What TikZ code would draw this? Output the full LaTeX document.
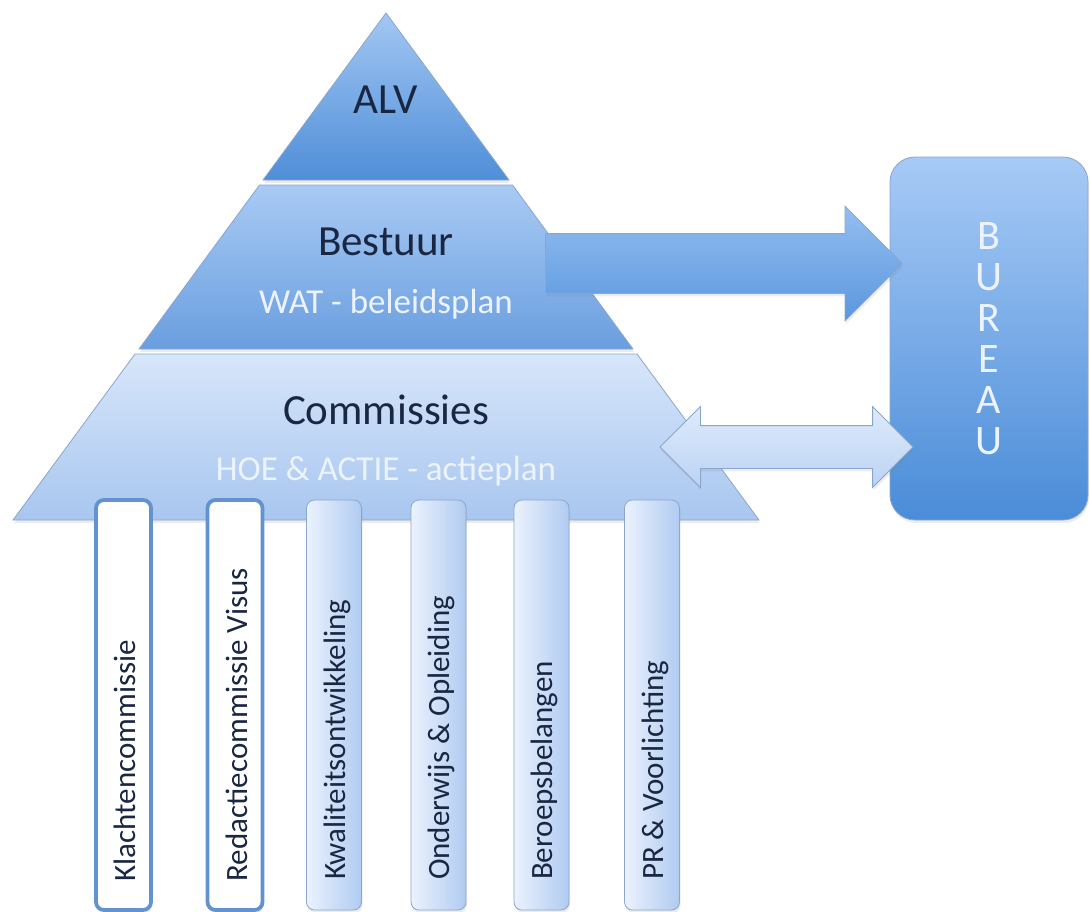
\documentclass[tikz,border=0pt]{standalone}
\usepackage{fontspec}
\setmainfont{Carlito}
\usetikzlibrary{shapes.arrows,shadows}

\definecolor{donker}{HTML}{1A2742}
\definecolor{wit}{HTML}{EDF3FC}
\definecolor{rand}{HTML}{8AA6CB}
\definecolor{alvboven}{HTML}{A3C7F3}
\definecolor{alvonder}{HTML}{4F8ED8}
\definecolor{bestboven}{HTML}{A8CAF4}
\definecolor{bestonder}{HTML}{6A9EDF}
\definecolor{comboven}{HTML}{D7E6FA}
\definecolor{comonder}{HTML}{A8C6EF}
\definecolor{burboven}{HTML}{A7CAF6}
\definecolor{buronder}{HTML}{4A8CD8}
\definecolor{pijlboven}{HTML}{94BEF0}
\definecolor{pijlonder}{HTML}{5A97DE}
\definecolor{dubbelboven}{HTML}{DEEAFB}
\definecolor{dubbelonder}{HTML}{BCD3F4}
\definecolor{kolomrand}{HTML}{6393CE}
\definecolor{kolomlicht}{HTML}{EBF2FD}
\definecolor{kolomblauw}{HTML}{B0CBF1}

\tikzset{
    schaduw/.style={drop shadow={opacity=.15, shadow xshift=1pt, shadow yshift=-3pt}},
    laag/.style={draw=rand, line width=0.8pt, schaduw},
    hoofd/.style={anchor=base, text=donker, font=\fontsize{43}{48}\selectfont},
    onder/.style={anchor=base, text=wit, font=\fontsize{35}{40}\selectfont},
    kolom/.style={rounded corners=8pt, minimum width=55pt, minimum height=410pt, inner sep=0pt, schaduw},
    kolomleeg/.style={kolom, draw=kolomrand, line width=3.8pt, fill=white},
    kolomvol/.style={kolom, draw=rand, line width=0.8pt, left color=kolomlicht, right color=kolomblauw},
    kolomtekst/.style={rotate=90, anchor=base west, text=donker, font=\fontsize{31}{35}\selectfont}
}

\begin{document}
    \begin{tikzpicture}[x=1pt, y=-1pt]
        \useasboundingbox (0,0) rectangle (1090,911);
        % Piramide
        \path[laag, top color=alvboven, bottom color=alvonder]
            (386,13) -- (509,180) -- (263,180) -- cycle;
        \path[laag, top color=bestboven, bottom color=bestonder]
            (259.5,185) -- (512.5,185) -- (633,349) -- (139,349) -- cycle;
        \path[laag, top color=comboven, bottom color=comonder]
            (135,354) -- (637,354) -- (759,520) -- (13,520) -- cycle;
        \node[hoofd] (alv) at (386,113) {ALV};
        \node[hoofd] (bestuur) at (386,255) {Bestuur};
        \node[onder] (wat) at (386,313) {WAT - beleidsplan};
        \node[hoofd] (commissies) at (386,424) {Commissies};
        \node[onder] (hoe) at (386,480) {HOE \& ACTIE - actieplan};
        % Bureau rechts
        \node[rounded corners=25pt, minimum width=198pt, minimum height=363pt,
              draw=rand, line width=0.8pt, top color=burboven, bottom color=buronder,
              schaduw, text=wit, align=center, font=\fontsize{42}{41}\selectfont]
            (bureau) at (989,338.5) {B\\U\\R\\E\\A\\U};
        % Pijlen naar het bureau
        \node[single arrow, single arrow head extend=27.5pt, single arrow tip angle=90,
              minimum height=357pt, minimum width=0pt, inner xsep=0pt, inner ysep=29.5pt,
              draw=rand, line width=0.8pt, top color=pijlboven, bottom color=pijlonder,
              schaduw, anchor=tail]
            (pijl) at (545,263.5) {};
        \node[double arrow, double arrow head extend=19pt, double arrow tip angle=90,
              minimum height=253pt, minimum width=0pt, inner xsep=0pt, inner ysep=21pt,
              draw=rand, line width=0.8pt, top color=dubbelboven, bottom color=dubbelonder,
              schaduw]
            (dubbelpijl) at (786.5,447) {};
        % Kolommen onder de commissies
        \node[kolomleeg] (k1) at (123.5,705) {};
        \node[kolomleeg] (k2) at (235,705) {};
        \node[kolomvol] (k3) at (334,705) {};
        \node[kolomvol] (k4) at (438.5,705) {};
        \node[kolomvol] (k5) at (541.5,705) {};
        \node[kolomvol] (k6) at (652,705) {};
        \node[kolomtekst] (t1) at ([xshift=12pt,yshift=27pt]k1.south) {Klachtencommissie};
        \node[kolomtekst] (t2) at ([xshift=12pt,yshift=27pt]k2.south) {Redactiecommissie Visus};
        \node[kolomtekst] (t3) at ([xshift=11pt,yshift=27pt]k3.south) {Kwaliteitsontwikkeling};
        \node[kolomtekst] (t4) at ([xshift=11pt,yshift=27pt]k4.south) {Onderwijs \& Opleiding};
        \node[kolomtekst] (t5) at ([xshift=11pt,yshift=27pt]k5.south) {Beroepsbelangen};
        \node[kolomtekst] (t6) at ([xshift=11pt,yshift=27pt]k6.south) {PR \& Voorlichting};
    \end{tikzpicture}
\end{document}
